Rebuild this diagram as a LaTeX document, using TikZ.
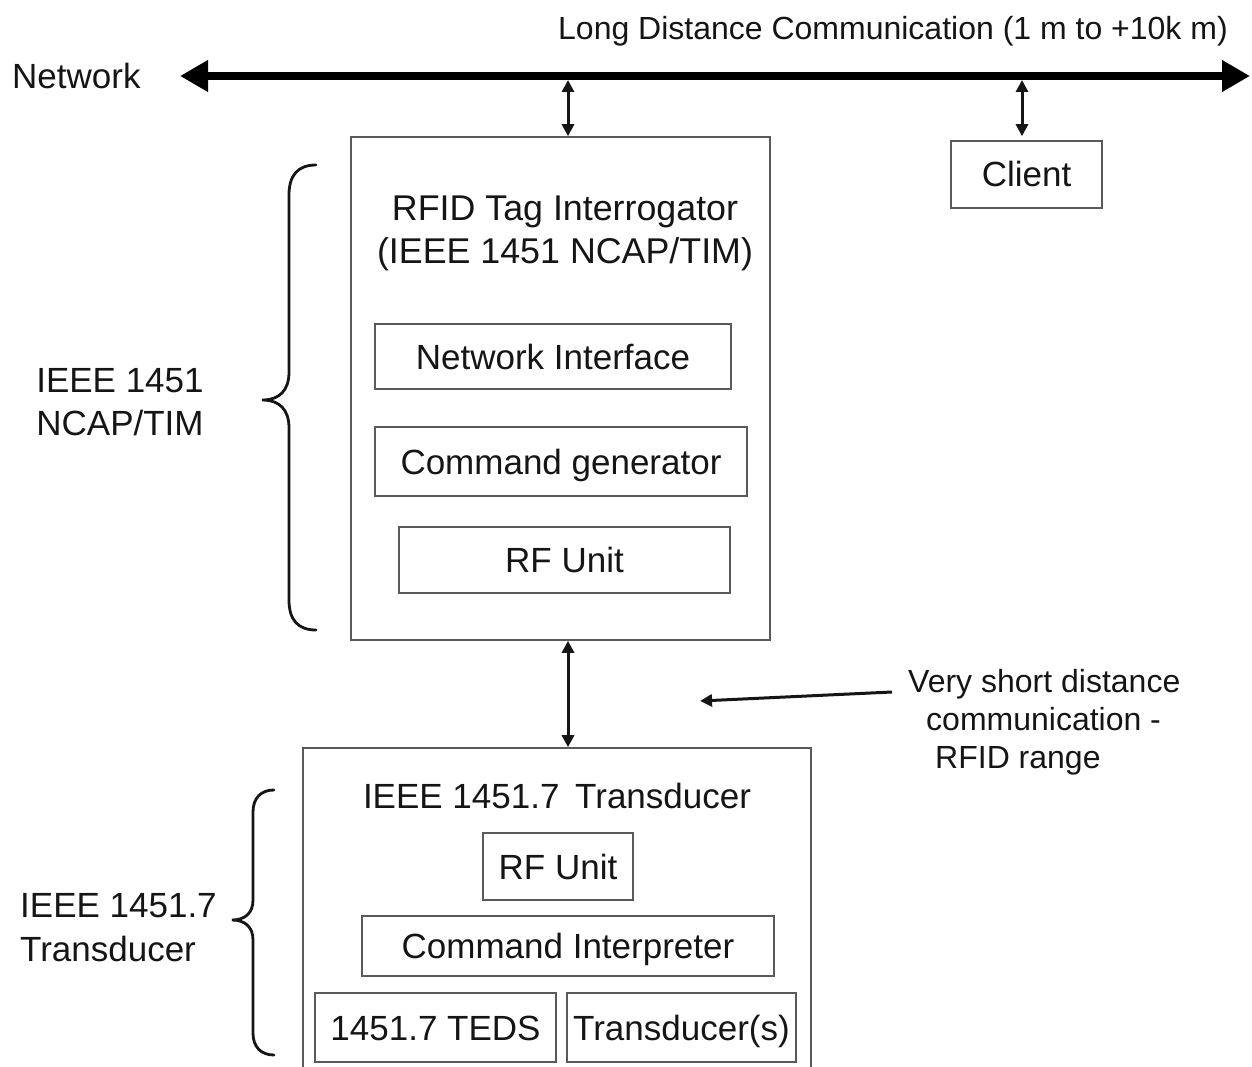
\documentclass[tikz,border=0pt]{standalone}
\usepackage{fontspec}
\setmainfont{Liberation Sans}
\usetikzlibrary{arrows.meta,calc}
\definecolor{ink}{HTML}{151515}
\definecolor{boxgray}{HTML}{5A5A5A}
\newcommand{\fsMain}{\fontsize{35}{43}\selectfont}
\newcommand{\fsNote}{\fontsize{32}{38}\selectfont}
\begin{document}
\begin{tikzpicture}[x=1pt,y=-1pt,
  box/.style={draw=boxgray, line width=1.6pt, inner sep=0pt, text=ink,
    font=\fsMain, text height=25pt, text depth=0pt},
  lbl/.style={text=ink, inner sep=0pt, font=\fsMain},
  note/.style={text=ink, inner sep=0pt, font=\fsNote},
  dbl/.style={draw=ink, line width=3pt,
    {Triangle[length=12pt,width=12pt]}-{Triangle[length=12pt,width=12pt]}},
  netline/.style={draw=black, line width=8pt,
    {Triangle[length=28pt,width=30pt]}-{Triangle[length=28pt,width=30pt]}},
  pointer/.style={draw=ink, line width=3pt, -{Triangle[length=12pt,width=12pt]}},
  curly/.style={draw=ink, line width=2.8pt, line cap=round}]
\useasboundingbox (0,0) rectangle (1252,1067);

% --- network backbone ---
\coordinate (netL) at (180,76);
\coordinate (netR) at (1250,76);
\draw[netline] (netL) -- (netR);
\node[lbl, anchor=base west] (netlabel) at (12,88.5) {Network};
\node[note, anchor=base east] (longlabel) at (1228,39.5) {Long Distance Communication (1 m to +10k m)};

% --- NCAP / interrogator ---
\node[box, minimum width=419, minimum height=503] (ncap) at (560.5,388.5) {};
\node[lbl, align=center, anchor=north, font=\fontsize{35.8}{43}\selectfont] (ncaptitle) at (565,195.5)
  {RFID Tag Interrogator\\(IEEE 1451 NCAP/TIM)};
\node[box, minimum width=356, minimum height=65] (netif) at (553,356.5) {Network Interface};
\node[box, minimum width=372, minimum height=69] (cmdgen) at (561,461.5) {Command generator};
\node[box, minimum width=331, minimum height=66] (rfa) at (564.5,560) {RF Unit};

\coordinate (tapA) at (568,80);
\draw[dbl] (tapA) -- (tapA |- ncap.north);

% --- client ---
\node[box, minimum width=151, minimum height=67] (client) at (1026.5,174.5) {Client};
\coordinate (tapB) at (1022,80);
\draw[dbl, shorten >=4pt] (tapB) -- (tapB |- client.north);

% --- NCAP brace and label ---
\draw[curly] (316,165) .. controls (298,165) and (289,175) .. (289,195)
  -- (289,372) .. controls (289,390) and (280,400) .. (262,400)
  .. controls (280,400) and (289,410) .. (289,428)
  -- (289,600) .. controls (289,620) and (298,630) .. (316,630);
\node[lbl, align=center, anchor=north] (ncaplabel) at (120,368.5) {IEEE 1451\\NCAP/TIM};

% --- transducer ---
\node[box, minimum width=508, minimum height=332] (trans) at (557,914) {};
\node[lbl, anchor=north] (transtitle) at (557,782.5) {IEEE 1451.7\hspace{0.45em}Transducer};
\node[box, minimum width=150, minimum height=67] (rfb) at (558,866.5) {RF Unit};
\node[box, minimum width=412, minimum height=60] (cmdint) at (568,946) {Command Interpreter};
\node[box, minimum width=241, minimum height=69] (teds) at (435.5,1027.5) {1451.7 TEDS};
\node[box, minimum width=229, minimum height=69] (xdcr) at (681.5,1027.5) {Transducer(s)};

\draw[dbl] (tapA |- ncap.south) -- (tapA |- trans.north);

% --- transducer brace and label ---
\draw[curly] (274,790) .. controls (261,790) and (253,798) .. (253,812)
  -- (253,900) .. controls (253,913) and (245,920) .. (232,920)
  .. controls (245,920) and (253,927) .. (253,940)
  -- (253,1033) .. controls (253,1047) and (261,1055) .. (274,1055);
\node[lbl, align=left, anchor=north west, font=\fontsize{35}{44}\selectfont]
  (translabel) at (20,893.5) {IEEE 1451.7\\Transducer};

% --- short range note ---
\node[note, align=left, anchor=north west] (shortlabel) at (908,669.5)
  {Very short distance\\\hspace*{18pt}communication -\\\hspace*{27pt}RFID range};
\coordinate (ptrS) at (892,692);
\coordinate (ptrE) at (700,701);
\draw[pointer] (ptrS) -- (ptrE);
\end{tikzpicture}
\end{document}
